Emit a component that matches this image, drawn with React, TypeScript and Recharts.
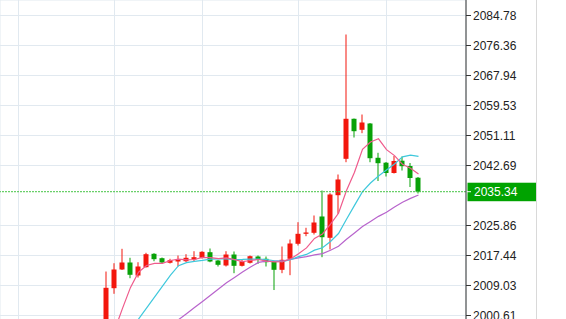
import React from "react";
import { Bar, CartesianGrid, ComposedChart, Line, ReferenceLine, XAxis, YAxis } from "recharts";

// candles, one per bar, oldest first (red = up, green = down)
const opens = [1994.99, 2008.27, 2013.52, 2015.48, 2011.83, 2014.16, 2017.92, 2016.69, 2015.40, 2015.76, 2015.84, 2016.32, 2016.80, 2018.37, 2016.04, 2014.64, 2017.72, 2014.55, 2015.40, 2017.16, 2016.52, 2015.76, 2013.43, 2016.52, 2020.73, 2023.53, 2023.81, 2028.39, 2022.41, 2034.36, 2044.57, 2055.80, 2052.71, 2054.48, 2044.86, 2043.48, 2040.59, 2044.04, 2042.55, 2039.27];
const highs = [2012.95, 2015.28, 2019.32, 2016.80, 2015.56, 2018.20, 2018.09, 2016.88, 2016.52, 2017.44, 2017.81, 2018.65, 2018.65, 2019.41, 2016.18, 2018.65, 2018.57, 2016.24, 2017.44, 2017.44, 2017.16, 2015.90, 2019.97, 2021.93, 2026.79, 2025.22, 2028.67, 2035.68, 2034.92, 2040.17, 2079.45, 2055.88, 2057.00, 2054.62, 2046.26, 2043.68, 2045.36, 2045.22, 2043.40, 2039.47];
const lows = [1993.60, 2006.70, 2013.38, 2011.07, 2011.27, 2014.08, 2015.84, 2015.20, 2015.20, 2014.36, 2015.62, 2015.84, 2016.60, 2015.56, 2014.36, 2014.36, 2012.48, 2014.36, 2015.20, 2015.11, 2014.36, 2007.76, 2012.48, 2011.92, 2020.25, 2022.86, 2023.34, 2016.97, 2019.13, 2029.14, 2043.62, 2050.55, 2051.76, 2043.62, 2038.35, 2039.61, 2040.45, 2041.29, 2036.66, 2034.84];
const closes = [2008.38, 2013.52, 2015.48, 2012.03, 2014.36, 2017.81, 2016.41, 2015.48, 2016.12, 2016.24, 2016.80, 2016.97, 2018.48, 2015.76, 2014.83, 2017.72, 2014.55, 2015.84, 2017.25, 2016.24, 2015.56, 2013.43, 2016.24, 2020.81, 2023.53, 2023.90, 2026.70, 2022.58, 2034.56, 2038.77, 2055.80, 2052.32, 2054.76, 2044.74, 2043.34, 2040.59, 2043.96, 2042.50, 2039.19, 2035.34];

// moving average lines
const ma5 = [1993.0, 1996.4, 2002.6, 2008.5, 2012.75, 2014.64, 2015.22, 2015.22, 2016.04, 2016.41, 2016.21, 2016.32, 2016.92, 2016.85, 2016.57, 2016.75, 2016.27, 2015.74, 2016.04, 2016.32, 2015.89, 2015.66, 2015.74, 2016.46, 2017.91, 2019.58, 2022.24, 2023.50, 2026.25, 2029.30, 2035.68, 2040.81, 2047.24, 2049.28, 2050.19, 2047.15, 2045.48, 2043.03, 2041.92, 2040.32];
const ma10 = [1987.2, 1990.3, 1993.4, 1996.5, 1999.6, 2002.69, 2005.77, 2008.86, 2011.94, 2014.58, 2015.43, 2015.77, 2016.07, 2016.44, 2016.49, 2016.48, 2016.30, 2016.33, 2016.44, 2016.44, 2016.32, 2015.97, 2015.74, 2016.25, 2017.12, 2017.74, 2018.95, 2019.62, 2021.36, 2023.61, 2027.63, 2031.52, 2035.37, 2037.77, 2039.75, 2041.42, 2043.14, 2045.13, 2045.60, 2045.25];
const ma20 = [1984.1, 1985.8, 1987.5, 1989.2, 1990.9, 1992.6, 1994.3, 1996.0, 1997.72, 1999.43, 2001.11, 2002.83, 2004.54, 2006.28, 2008.04, 2009.78, 2011.27, 2012.81, 2014.22, 2015.51, 2015.87, 2015.87, 2015.91, 2016.35, 2016.80, 2017.11, 2017.62, 2017.98, 2018.90, 2020.03, 2021.98, 2023.74, 2025.56, 2027.01, 2028.43, 2029.58, 2031.05, 2032.38, 2033.48, 2034.43];

const priceTicks = [2000.61, 2009.03, 2017.44, 2025.86, 2042.69, 2051.11, 2059.53, 2067.94, 2076.36, 2084.78];
const lastPrice = 2035.34;
const gridBars = [-11, 1, 12, 24, 35]; // bar indexes where the vertical grid lines fall

const UP = "#f3170d";
const DOWN = "#08a108";
const FONT = "'Liberation Sans', Arial, sans-serif";

const data = opens.map((open, i) => ({
  i,
  open,
  high: highs[i],
  low: lows[i],
  close: closes[i],
  range: [lows[i], highs[i]],
  ma5: ma5[i],
  ma10: ma10[i],
  ma20: ma20[i],
}));

const W = 536;
const H = 360;
const AXIS_W = 70;
const PLOT_W = W - AXIS_W;
const STEP = 8;
const FIRST_X = 106.5;
const X_MIN = -FIRST_X / STEP;
const X_MAX = X_MIN + PLOT_W / STEP;
const PX_PER_UNIT = 300 / (2084.78 - 2000.61);
const Y_MAX = 2084.78 + 15.5 / PX_PER_UNIT;
const Y_MIN = Y_MAX - H / PX_PER_UNIT;

function Candle(props: any) {
  const { x, y, width, height, payload } = props;
  if (!payload) return null;
  const top = Math.min(y, y + height);
  const h = Math.abs(height);
  const k = h / (payload.high - payload.low);
  const yOf = (v: number) => top + (payload.high - v) * k;
  const color = payload.close >= payload.open ? UP : DOWN;
  const cx = x + width / 2;
  const bodyTop = yOf(Math.max(payload.open, payload.close));
  const bodyBottom = yOf(Math.min(payload.open, payload.close));
  return (
    <g>
      <rect x={cx - 0.5} y={top} width={1} height={h} fill={color} />
      <rect x={x} y={bodyTop} width={width} height={Math.max(1, bodyBottom - bodyTop)} fill={color} />
    </g>
  );
}

function PriceTag(props: any) {
  const vb = props.viewBox;
  if (!vb) return null;
  const x = vb.x + vb.width;
  const y = vb.y;
  return (
    <g>
      <rect x={x + 1.5} y={y - 9} width={AXIS_W - 1.5} height={18.5} fill="#00a300" />
      <line x1={x + 1} x2={x + 5} y1={y} y2={y} stroke="#ffffff" />
      <text x={x + 8} y={y} dy="0.36em" fill="#ffffff" fontSize={12} fontFamily={FONT}>
        {lastPrice.toFixed(2)}
      </text>
    </g>
  );
}

export default function App() {
  return (
    <div style={{ position: "absolute", left: 0, top: 0, width: 566, height: 319, overflow: "hidden", background: "#fff" }}>
      <div style={{ width: W, height: 319, borderRight: "1px solid #d9d9d9" }}>
        <ComposedChart width={W} height={H} data={data} margin={{ top: 0, right: 0, bottom: 0, left: 0 }}>
          <CartesianGrid stroke="#e1e9f0" />
          <XAxis
            dataKey="i"
            type="number"
            domain={[X_MIN, X_MAX]}
            ticks={gridBars}
            allowDataOverflow
            hide
          />
          <YAxis
            orientation="right"
            type="number"
            width={AXIS_W}
            domain={[Y_MIN, Y_MAX]}
            ticks={priceTicks}
            interval={0}
            allowDataOverflow
            axisLine={{ stroke: "#333" }}
            tickLine={{ stroke: "#333" }}
            tickSize={5}
            tickMargin={2}
            tick={{ fill: "#222", fontSize: 12, fontFamily: FONT }}
            tickFormatter={(v) => Number(v).toFixed(2)}
          />
          <Bar dataKey="range" barSize={5} shape={Candle} isAnimationActive={false} />
          <Line type="linear" dataKey="ma20" stroke="#b864cc" strokeWidth={1.2} dot={false} activeDot={false} isAnimationActive={false} />
          <Line type="linear" dataKey="ma10" stroke="#3fc8dc" strokeWidth={1.2} dot={false} activeDot={false} isAnimationActive={false} />
          <Line type="linear" dataKey="ma5" stroke="#ef5b8c" strokeWidth={1.2} dot={false} activeDot={false} isAnimationActive={false} />
          <ReferenceLine y={lastPrice} stroke="#45c545" strokeDasharray="2 1" label={PriceTag} />
        </ComposedChart>
      </div>
    </div>
  );
}
